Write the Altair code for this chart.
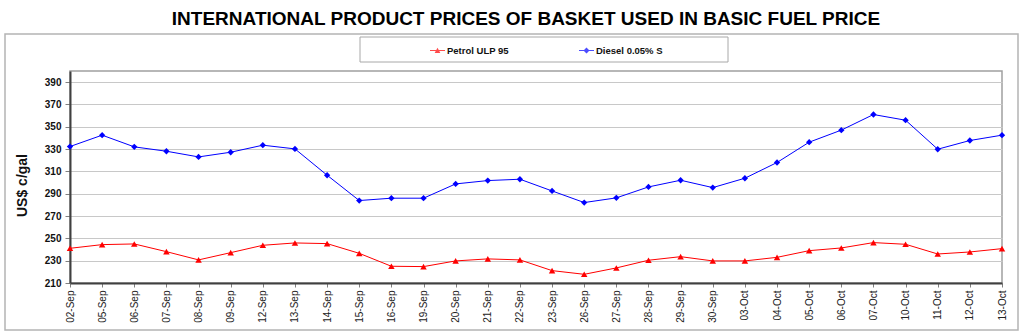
import altair as alt
import pandas as pd

# Trading days (Sep-Oct) and the two product prices in US$ c/gal
dates = ["02-Sep", "05-Sep", "06-Sep", "07-Sep", "08-Sep", "09-Sep", "12-Sep",
         "13-Sep", "14-Sep", "15-Sep", "16-Sep", "19-Sep", "20-Sep", "21-Sep",
         "22-Sep", "23-Sep", "26-Sep", "27-Sep", "28-Sep", "29-Sep", "30-Sep",
         "03-Oct", "04-Oct", "05-Oct", "06-Oct", "07-Oct", "10-Oct", "11-Oct",
         "12-Oct", "13-Oct"]
petrol = [241.1, 244.4, 245.0, 238.1, 230.7, 237.2, 243.8, 245.9, 245.3, 236.6,
          225.0, 224.7, 229.8, 231.6, 230.7, 221.1, 217.8, 223.5, 230.4, 233.6,
          229.8, 229.8, 233.0, 239.0, 241.4, 246.2, 244.7, 236.0, 237.8, 240.8]
diesel = [332.3, 342.5, 332.0, 328.1, 323.0, 327.2, 333.5, 330.2, 306.6, 283.9,
          286.0, 286.0, 298.8, 301.8, 303.0, 292.5, 282.1, 286.3, 296.1, 302.1,
          295.5, 303.9, 318.0, 336.2, 347.0, 361.0, 355.9, 329.9, 337.7, 342.5]
series_names = ["Petrol ULP 95", "Diesel 0.05% S"]
series_colors = ["#ff0000", "#0000ff"]
y_ticks = [210, 230, 250, 270, 290, 310, 330, 350, 370, 390]

df = pd.DataFrame({
    "date": dates * 2,
    "price": petrol + diesel,
    "series": [series_names[0]] * len(dates) + [series_names[1]] * len(dates),
})
# legend-only rows, placed above the value domain so the clipped marks stay hidden
legend_df = pd.DataFrame({"item": series_names, "date": [dates[0]] * 2, "price": [500, 500]})
box_df = pd.DataFrame({"k": [0]})

x_enc = alt.X("date:N", sort=dates, title=None,
              scale=alt.Scale(type="point", padding=0),
              axis=alt.Axis(labelAngle=270, labelFontSize=10, labelColor="#222222",
                            labelFont="Liberation Sans", tickSize=4, tickColor="#808080",
                            labelPadding=3, domainColor="#404040", domainWidth=2,
                            grid=False))
y_enc = alt.Y("price:Q", title="US$ c/gal",
              scale=alt.Scale(domain=[210, 400], nice=False, zero=False),
              axis=alt.Axis(values=y_ticks, labelFontSize=10, labelFontWeight="bold",
                            labelFont="Liberation Sans", labelColor="#111111",
                            tickSize=5, tickColor="#808080", labelPadding=4,
                            domainColor="#404040", domainWidth=2,
                            gridColor="#c8c8c8", gridWidth=1,
                            titleFont="Liberation Sans", titleFontSize=14,
                            titleFontWeight="bold", titleColor="#111111",
                            titleX=-41, titleY=114))
color_enc = alt.Color("series:N", legend=None,
                      scale=alt.Scale(domain=series_names, range=series_colors))

lines = alt.Chart(df).mark_line(strokeWidth=1).encode(x=x_enc, y=y_enc, color=color_enc)
points = alt.Chart(df).mark_point(filled=True, opacity=1).encode(
    x=x_enc, y=y_enc, color=color_enc,
    shape=alt.Shape("series:N", legend=None,
                    scale=alt.Scale(domain=series_names, range=["triangle-up", "diamond"])),
    size=alt.Size("series:N", legend=None,
                  scale=alt.Scale(domain=series_names, range=[42, 40])),
)

# legend symbols: a short line with the marker on it
tri_path = "M-1,-0.06H1V0.06H-1Z M-0.38,0.33L0,-0.37L0.38,0.33Z"
dia_path = "M-1,-0.06H1V0.06H-1Z M0,-0.4L0.4,0L0,0.4L-0.4,0Z"
legend_layer = alt.Chart(legend_df).mark_point(filled=True, clip=True).encode(
    x=x_enc, y=y_enc,
    color=alt.Color("item:N", scale=alt.Scale(domain=series_names, range=series_colors),
                    legend=alt.Legend(title=None, orient="none", direction="horizontal",
                                      legendX=360, legendY=-28, symbolSize=225,
                                      symbolStrokeWidth=0,
                                      labelFont="Liberation Sans", labelFontSize=9.5,
                                      labelFontWeight="bold", labelColor="#111111",
                                      labelOffset=2, columnPadding=70)),
    shape=alt.Shape("item:N", scale=alt.Scale(domain=series_names, range=[tri_path, dia_path])),
)

# frame around the whole chart and the box behind the legend
outer_frame = alt.Chart(box_df).mark_rect(fillOpacity=0, stroke="#b4b4b4", strokeWidth=1.5).encode(
    x=alt.value(-65), x2=alt.value(948), y=alt.value(-37), y2=alt.value(259))
legend_box = alt.Chart(box_df).mark_rect(fill="white", stroke="#a8a8a8", strokeWidth=1).encode(
    x=alt.value(290), x2=alt.value(658), y=alt.value(-34), y2=alt.value(-9))

chart = alt.layer(outer_frame, legend_box, lines, points, legend_layer).resolve_scale(
    color="independent", shape="independent"
).properties(
    width=932, height=212,
    title=alt.TitleParams("INTERNATIONAL PRODUCT PRICES OF BASKET USED IN BASIC FUEL PRICE",
                          font="Liberation Sans", fontSize=19,
                          fontWeight="bold", color="#000000", anchor="middle", dx=-10),
    autosize=alt.AutoSizeParams(type="none"),
    padding={"left": 70, "top": 71, "right": 22, "bottom": 52},
    background="white",
).configure_view(stroke="#a0a0a0", strokeWidth=1.5)

chart.save("out.html", embed_options={"renderer": "svg", "actions": False})
